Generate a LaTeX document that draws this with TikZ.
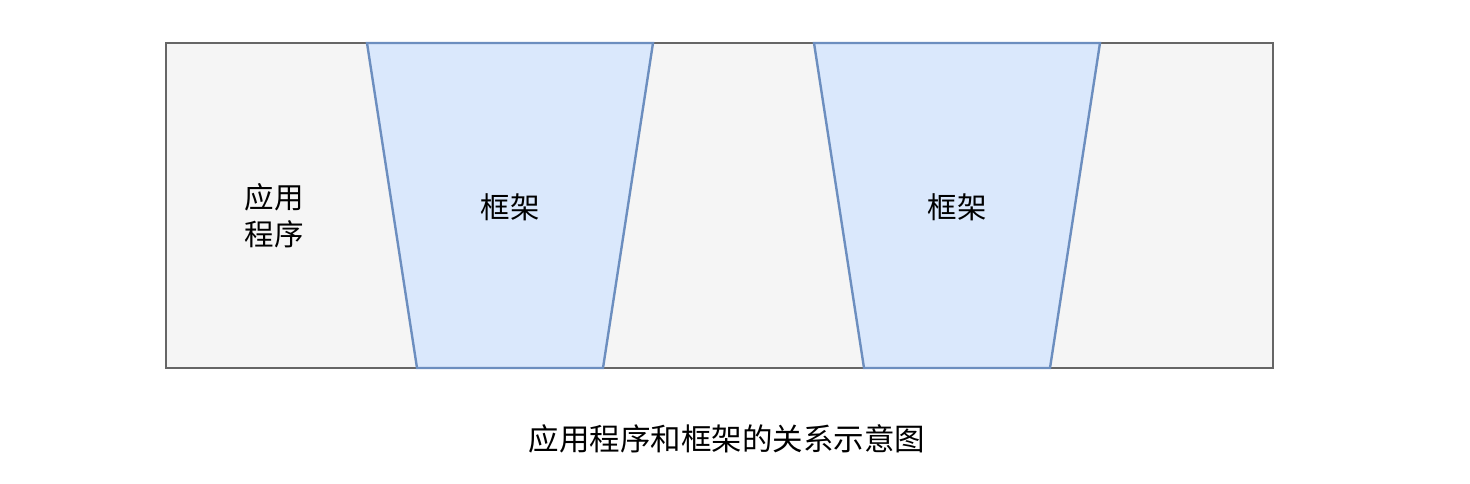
\documentclass[tikz,border=0pt]{standalone}
\usepackage{fontspec}
\setmainfont{Noto Sans CJK SC}
\usetikzlibrary{positioning}

\definecolor{appfill}{HTML}{F5F5F5}
\definecolor{appline}{HTML}{666666}
\definecolor{fwfill}{HTML}{DAE8FC}
\definecolor{fwline}{HTML}{6C8EBF}

\tikzset{
  appbox/.style={draw=appline, fill=appfill, line width=2.4pt},
  fwbox/.style={draw=fwline, fill=fwfill, line width=2.4pt, line join=miter},
  boxtext/.style={font=\fontsize{29.5}{37}\selectfont, align=center, inner sep=0pt},
  captext/.style={font=\fontsize{30.5}{38}\selectfont, inner sep=0pt}
}

\begin{document}
\begin{tikzpicture}[x=1pt, y=-1pt]
  \useasboundingbox (0,0) rectangle (1470,484);
  % outer frame
  \draw[appbox] (166,43) rectangle (1273,368);
  % the two frameworks
  \draw[fwbox] (367,43) -- (653,43) -- (603,368) -- (417,368) -- cycle;
  \draw[fwbox] (814,43) -- (1100,43) -- (1050,368) -- (864,368) -- cycle;
  % labels
  \node[boxtext] (app) at (274,216) {应用\\程序};
  \node[boxtext] (fwa) at (510,207) {框架};
  \node[boxtext] (fwb) at (957,207) {框架};
  \node[captext] (cap) at (727,439) {应用程序和框架的关系示意图};
\end{tikzpicture}
\end{document}
